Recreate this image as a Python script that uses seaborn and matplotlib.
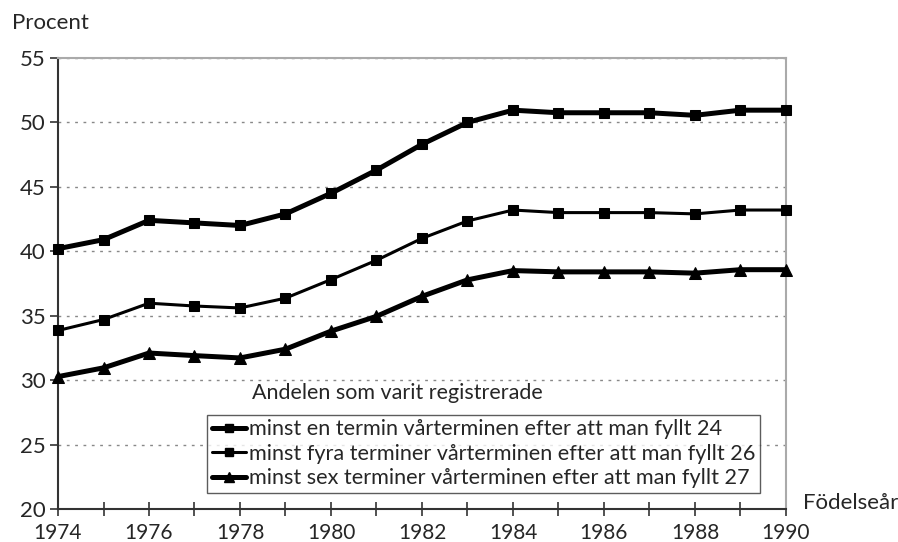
import matplotlib
matplotlib.use("Agg")
import matplotlib.pyplot as plt
import seaborn as sns
import pandas as pd
from matplotlib.lines import Line2D
from matplotlib.ticker import MultipleLocator

years = list(range(1974, 1991))
minst_en = [40.2, 40.9, 42.4, 42.2, 42.0, 42.9, 44.5, 46.3, 48.3, 50.0, 50.95, 50.75, 50.75, 50.75, 50.55, 50.95, 50.95]
minst_fyra = [33.85, 34.7, 35.97, 35.75, 35.6, 36.36, 37.8, 39.3, 41.0, 42.35, 43.2, 43.0, 43.0, 43.0, 42.9, 43.2, 43.2]
minst_sex = [30.27, 30.95, 32.1, 31.9, 31.72, 32.4, 33.8, 34.95, 36.5, 37.78, 38.5, 38.4, 38.4, 38.4, 38.3, 38.57, 38.57]

labels = [
    "minst en termin vårterminen efter att man fyllt 24",
    "minst fyra terminer vårterminen efter att man fyllt 26",
    "minst sex terminer vårterminen efter att man fyllt 27",
]
legend_title = "Andelen som varit registrerade"
y_label = "Procent"
x_label = "Födelseår"

sns.set_theme(style="white")
plt.rcParams["font.family"] = ["Lato", "DejaVu Sans"]

fig = plt.figure(figsize=(8.98, 5.42), dpi=100)
ax = fig.add_axes([0.0646, 0.061, 0.8106, 0.832])

styles = [
    dict(values=minst_en, lw=3.6, marker="s", ms=7.5),
    dict(values=minst_fyra, lw=2.2, marker="s", ms=7.5),
    dict(values=minst_sex, lw=3.6, marker="^", ms=8),
]

handles = []
for lab, st in zip(labels, styles):
    df = pd.DataFrame({"year": years, "value": st["values"]})
    sns.lineplot(data=df, x="year", y="value", ax=ax, color="black",
                 lw=st["lw"], marker=st["marker"], markersize=st["ms"],
                 markeredgecolor="black", markerfacecolor="black", zorder=3,
                 clip_on=False)
    handles.append(Line2D([], [], color="black", lw=st["lw"], marker=st["marker"],
                          markersize=st["ms"] - 1.5, label=lab))

ax.set_xlim(1974, 1990)
ax.set_ylim(20, 55)
ax.xaxis.set_major_locator(MultipleLocator(2))
ax.xaxis.set_minor_locator(MultipleLocator(1))
ax.yaxis.set_major_locator(MultipleLocator(5))

ax.grid(axis="y", which="major", color="#888888", linestyle=(0, (2, 4)), lw=1.0)
ax.grid(axis="x", visible=False)

for side in ("top", "right"):
    ax.spines[side].set_color("#aaaaaa")
    ax.spines[side].set_linewidth(1.5)
for side in ("left", "bottom"):
    ax.spines[side].set_color("#333333")
    ax.spines[side].set_linewidth(1.5)

ax.tick_params(axis="x", which="both", direction="inout", length=10, width=1.2,
               color="#333333", bottom=True, labelsize=15, pad=5)
ax.tick_params(axis="y", which="major", direction="out", length=6, width=1.2,
               color="#333333", left=True, labelsize=16, pad=3)
ax.set_xlabel("")
ax.set_ylabel("")

fig.text(0.013, 0.958, y_label, fontsize=16, ha="left", va="center")
fig.text(0.894, 0.072, x_label, fontsize=16, ha="left", va="center")

ax.text(0.266, 0.257, legend_title, transform=ax.transAxes, fontsize=15.5,
        ha="left", va="center")

leg = ax.legend(handles=handles, loc="lower left", bbox_to_anchor=(0.2047, 0.0355),
                frameon=True, fancybox=False, fontsize=15.6, handlelength=1.6,
                handletextpad=0.1, borderpad=0.22, labelspacing=0.2,
                borderaxespad=0)
leg.get_frame().set_edgecolor("#333333")
leg.get_frame().set_linewidth(1.0)

fig.savefig("out.png", dpi=100)
